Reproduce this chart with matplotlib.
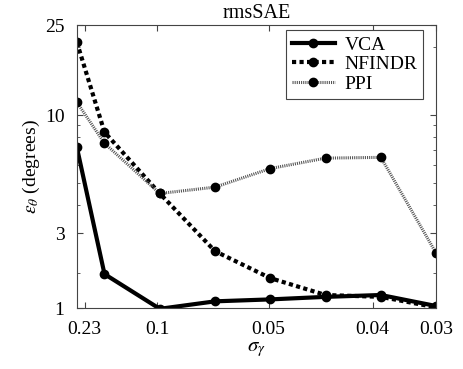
import numpy as np
import matplotlib as mpl
mpl.use('Agg')
from matplotlib import pyplot as plt
from matplotlib.ticker import FixedLocator, NullFormatter

mpl.rcParams.update({'font.family': 'Liberation Serif',
                     'mathtext.fontset': 'stix',
                     'font.size': 14})

# data
step = [0.5, 1, 2, 3, 4, 5, 6, 7]
vca = [7.2, 1.98, 1.39, 1.50, 1.53, 1.57, 1.60, 1.43]
nfindr = [21.0, 8.4, 4.5, 2.5, 1.9, 1.6, 1.57, 1.41]
ppi = [11.4, 7.5, 4.5, 4.8, 5.8, 6.45, 6.5, 2.45]

xtick_pos = [0.64, 1.95, 3.97, 5.85, 7.0]
xtick_lab = ['0.23', '0.1', '0.05', '0.04', '0.03']
ytick_pos = [1.4, 3, 10, 25]
ytick_lab = ['1', '3', '10', '25']

fig = plt.figure(figsize=(4.63, 3.69), dpi=100)
ax = fig.add_axes([0.166, 0.165, 0.776, 0.767])

ax.plot(step, vca, color='k', lw=3, marker='o', ms=6, label='VCA')
ax.plot(step, nfindr, color='k', lw=3, ls=(0, (1.0, 0.8)), marker='o', ms=6, label='NFINDR')
ax.plot(step, ppi, color='#555555', lw=2.2, ls=(0, (0.35, 0.35)), marker='o', ms=6,
        mfc='k', mec='k', label='PPI')

ax.set_yscale('log')
ax.set_ylim(1.4, 25)
ax.set_xlim(0.5, 7)
ax.yaxis.set_major_locator(FixedLocator(ytick_pos))
ax.set_yticklabels(ytick_lab)
ax.yaxis.set_minor_locator(FixedLocator([2, 4, 5, 6, 7, 8, 9, 20]))
ax.yaxis.set_minor_formatter(NullFormatter())
ax.set_xticks(xtick_pos)
ax.set_xticklabels(xtick_lab)

ax.tick_params(which='both', direction='in', top=True, right=True, pad=9,
               color='#444444')
ax.tick_params(which='major', length=4)
ax.tick_params(which='minor', length=2.5)
for s in ax.spines.values():
    s.set_color('#444444')
    s.set_linewidth(0.8)

ax.set_title('rmsSAE', fontsize=14.5, pad=5)
ax.set_xlabel(r'$\sigma_\gamma$', fontsize=15, labelpad=2)
ax.set_ylabel(r'$\varepsilon_\theta$ (degrees)', fontsize=14, labelpad=2)

leg = ax.legend(loc='upper right', bbox_to_anchor=(0.964, 0.982), borderaxespad=0,
                fancybox=False, framealpha=1, edgecolor='#444444',
                handlelength=2.2, borderpad=0.3, labelspacing=0.1, handletextpad=0.5)
leg.get_frame().set_linewidth(0.8)

fig.savefig('out.png', dpi=100)
